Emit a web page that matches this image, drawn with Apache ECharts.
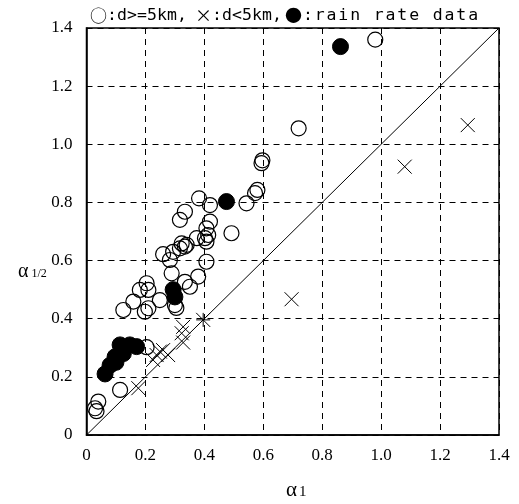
<!DOCTYPE html>
<html><head><meta charset="utf-8">
<script src="https://cdn.jsdelivr.net/npm/echarts@6/dist/echarts.min.js"></script>
<style>html,body{margin:0;padding:0;background:#fff}#c{width:519px;height:504px}</style>
</head><body><div id="c"></div>
<script>
// open circles: d >= 5 km  [alpha1, alpha1/2]
const openPts = [
  [0.98,1.36],[0.72,1.055],[0.597,0.945],[0.594,0.935],[0.58,0.843],[0.572,0.832],
  [0.543,0.797],[0.419,0.791],[0.382,0.814],[0.334,0.768],[0.317,0.740],[0.419,0.734],
  [0.407,0.711],[0.413,0.688],[0.402,0.677],[0.492,0.694],[0.374,0.677],[0.323,0.659],
  [0.317,0.642],[0.334,0.648],[0.340,0.654],[0.407,0.665],[0.294,0.630],[0.260,0.622],
  [0.283,0.602],[0.407,0.596],[0.289,0.556],[0.379,0.545],[0.334,0.527],[0.351,0.510],
  [0.204,0.522],[0.181,0.499],[0.210,0.499],[0.249,0.464],[0.159,0.459],[0.125,0.430],
  [0.198,0.424],[0.210,0.436],[0.300,0.447],[0.305,0.437],[0.204,0.302],[0.114,0.155],
  [0.040,0.115],[0.029,0.092],[0.034,0.082]
];
// crosses: d < 5 km
const crossPts = [
  [1.294,1.066],[1.080,0.923],[0.696,0.467],[0.396,0.396],[0.328,0.372],[0.323,0.350],
  [0.328,0.318],[0.260,0.292],[0.277,0.275],[0.238,0.275],[0.226,0.258],[0.176,0.161],
  [0.249,0.287]
];
const plusPts = [[0.396,0.396]];
// filled circles: rain rate data
const filledPts = [
  [0.862,1.336],[0.475,0.803],[0.294,0.500],[0.300,0.475],[0.114,0.310],[0.147,0.310],
  [0.170,0.304],[0.125,0.280],[0.097,0.269],[0.080,0.240],[0.063,0.210],[0.100,0.250]
];
const diagLine = [[0,0],[1.4,1.4]];
const axisMin = 0, axisMax = 1.4, axisStep = 0.2;
const legendSymbols = ['○', '×', '●'];
const legendTexts = [':d>=5km,', ':d<5km,', ':rain rate data'];

const fmt = v => (Math.abs(v) < 1e-9 ? '0' : v.toFixed(1));
const labelFont = {fontFamily:'Liberation Serif', fontSize:17, color:'#000'};
const splitDash = {show:true, lineStyle:{color:'#000', width:1, type:[6,5]}};
const legRich = {
  s:{fontFamily:'Noto Sans CJK JP', fontSize:17, fill:'#000', width:17, align:'center'},
  n:{fontFamily:'DejaVu Sans Mono', fontSize:16.5, fill:'#000', width:10, align:'center'},
  w:{fontFamily:'DejaVu Sans Mono', fontSize:16.5, fill:'#000', width:11.8, align:'center'}
};
const legendPos = [90, 195, 285];
const legendCls = ['n', 'n', 'w'];
const spaced = (str, cls) => str.split('').map(ch => ch === ' ' ? '{' + cls + '| }' : '{' + cls + '|' + ch + '}').join('');

const chart = echarts.init(document.getElementById('c'), null, {renderer:'canvas'});
chart.setOption({
  backgroundColor:'#fff',
  animation:false,
  grid:{left:86.5, right:20, top:28, bottom:69, show:true, borderColor:'#000', borderWidth:1.5, backgroundColor:'transparent'},
  xAxis:{type:'value', min:axisMin, max:axisMax, interval:axisStep,
    axisLine:{show:true, lineStyle:{color:'#000', width:1.5}}, axisTick:{show:false},
    axisLabel:Object.assign({margin:12, formatter:fmt}, labelFont), splitLine:splitDash},
  yAxis:{type:'value', min:axisMin, max:axisMax, interval:axisStep,
    axisLine:{show:true, lineStyle:{color:'#000', width:1.5}}, axisTick:{show:false},
    axisLabel:Object.assign({margin:14, formatter:fmt}, labelFont), splitLine:splitDash},
  series:[
    {type:'line', data:diagLine, symbol:'none', silent:true, z:1,
      lineStyle:{color:'#000', width:1}},
    {type:'scatter', data:openPts, symbol:'circle', symbolSize:15, z:3,
      itemStyle:{color:'rgba(0,0,0,0)', borderColor:'#000', borderWidth:1.2, opacity:1}},
    {type:'scatter', data:filledPts, symbol:'circle', symbolSize:16, z:4,
      itemStyle:{color:'#000', borderColor:'#000', borderWidth:1, opacity:1}},
    {type:'scatter', data:crossPts, symbol:'path://M0,0L10,10M10,0L0,10', symbolSize:14, z:5,
      itemStyle:{color:'none', borderColor:'#000', borderWidth:1, opacity:1}},
    {type:'scatter', data:plusPts, symbol:'path://M5,0L5,10M0,5L10,5', symbolSize:14, z:5,
      itemStyle:{color:'none', borderColor:'#000', borderWidth:1, opacity:1}}
  ],
  graphic:legendSymbols.map((s, i) => ({
    type:'text', left:legendPos[i], top:7,
    style:{text:'{s|' + s + '}' + spaced(legendTexts[i], legendCls[i]), rich:legRich}
  })).concat([
    {type:'text', left:286, top:480, style:{
      text:'{a|α}{s|1}', rich:{a:{fontFamily:'Liberation Serif', fontSize:21, fill:'#000'}, s:{fontFamily:'Liberation Serif', fontSize:15, fill:'#000', padding:[4,0,0,2]}}}},
    {type:'text', left:18, top:262, style:{
      text:'{a|α}{s|1/2}', rich:{a:{fontFamily:'Liberation Serif', fontSize:20, fill:'#000'}, s:{fontFamily:'Liberation Serif', fontSize:12, fill:'#000', padding:[4,0,0,3]}}}}
  ])
});
</script></body></html>
